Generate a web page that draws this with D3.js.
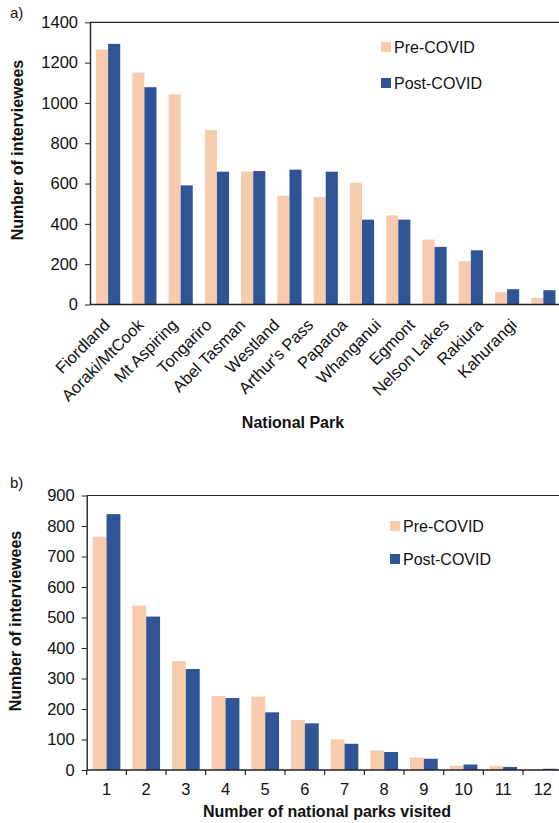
<!DOCTYPE html>
<html>
<head>
<meta charset="utf-8">
<script src="https://cdn.jsdelivr.net/npm/d3@7"></script>
<style>
  html, body { margin: 0; padding: 0; background: #fff; }
  svg { display: block; font-family: "Liberation Sans", Arial, sans-serif; }
</style>
</head>
<body>
<svg id="chart" width="559" height="823"></svg>
<script>
// Panel a: interviewees per national park
const parks = ["Fiordland", "Aoraki/MtCook", "Mt Aspiring", "Tongariro", "Abel Tasman",
  "Westland", "Arthur's Pass", "Paparoa", "Whanganui", "Egmont", "Nelson Lakes", "Rakiura", "Kahurangi"];
const parkPre  = [1265, 1151, 1042, 865, 660, 540, 533, 604, 442, 322, 215, 61, 33];
const parkPost = [1293, 1078, 591, 659, 662, 669, 659, 421, 421, 286, 269, 76, 71];
const parkTicks = [0, 200, 400, 600, 800, 1000, 1200, 1400];

// Panel b: number of national parks visited per interviewee
const visits = ["1", "2", "3", "4", "5", "6", "7", "8", "9", "10", "11", "12"];
const visitPre  = [765, 539, 357, 243, 241, 164, 100, 64, 41, 14, 13, 3];
const visitPost = [839, 503, 331, 236, 189, 153, 86, 59, 37, 18, 10, 4];
const visitTicks = [0, 100, 200, 300, 400, 500, 600, 700, 800, 900];

const seriesNames = ["Pre-COVID", "Post-COVID"];
const colors = { "Pre-COVID": "#F8CBAD", "Post-COVID": "#2F5597" };

const svg = d3.select("#chart");

function panel(opts) {
  const g = svg.append("g");
  const x0 = d3.scaleBand().domain(opts.cats).range([opts.left, opts.right]).padding(0);
  const x1 = d3.scaleBand().domain(seriesNames).range([0, x0.bandwidth()])
    .paddingInner(0).paddingOuter(opts.outer);
  const y = d3.scaleLinear().domain([0, opts.max]).range([opts.bottom, opts.top]);

  // bars
  const rows = opts.cats.map((c, i) => ({ c, v: { "Pre-COVID": opts.pre[i], "Post-COVID": opts.post[i] } }));
  const grp = g.selectAll("g.cat").data(rows).join("g")
    .attr("transform", d => `translate(${x0(d.c)},0)`);
  grp.selectAll("rect").data(d => seriesNames.map(s => ({ s, v: d.v[s] }))).join("rect")
    .attr("x", d => x1(d.s))
    .attr("width", x1.bandwidth())
    .attr("y", d => y(d.v))
    .attr("height", d => y(0) - y(d.v))
    .attr("fill", d => colors[d.s]);

  // top frame line
  g.append("line")
    .attr("x1", opts.left).attr("x2", 559)
    .attr("y1", opts.top).attr("y2", opts.top)
    .attr("stroke", "#222").attr("stroke-width", 1.2);

  // y axis
  const ya = g.append("g").attr("transform", `translate(${opts.left},0)`)
    .call(d3.axisLeft(y).tickValues(opts.ticks).tickFormat(d3.format("d"))
      .tickSize(5).tickSizeOuter(0).tickPadding(7));
  ya.select(".domain").attr("stroke", "#222").attr("stroke-width", 1.4);
  ya.selectAll(".tick line").attr("stroke", "#222");
  ya.selectAll(".tick text").attr("font-size", 16.5).attr("fill", "#111")
    .attr("font-family", "Liberation Sans, Arial, sans-serif");

  // x axis line
  const xa = g.append("g").attr("transform", `translate(0,${opts.bottom})`)
    .call(d3.axisBottom(x0).tickSize(0).tickSizeOuter(0).tickFormat(""));
  xa.select(".domain").attr("stroke", "#222").attr("stroke-width", 1.6)
    .attr("d", `M${opts.left},0H559`);
  xa.selectAll(".tick").remove();

  // legend
  seriesNames.forEach((s, i) => {
    const ly = opts.legY + i * opts.legGap;
    g.append("rect").attr("x", opts.legX).attr("y", ly - 10).attr("width", 10).attr("height", 10)
      .attr("fill", colors[s]);
    g.append("text").attr("x", opts.legX + 13).attr("y", ly + 1)
      .attr("font-size", 16).attr("fill", "#111").text(s);
  });

  // y title
  g.append("text")
    .attr("transform", `translate(${opts.yTitleX},${opts.yTitleY}) rotate(-90)`)
    .attr("text-anchor", "middle").attr("font-size", 16).attr("font-weight", "bold")
    .attr("fill", "#111").text("Number of interviewees");

  // panel letter
  g.append("text").attr("x", opts.letterX).attr("y", opts.letterY)
    .attr("font-size", 15).attr("fill", "#111").text(opts.letter);

  return { g, x0, y };
}

// ---- panel a
const a = panel({
  cats: parks, pre: parkPre, post: parkPost, max: 1400, ticks: parkTicks,
  left: 90, right: 561.5, top: 22.3, bottom: 304.5, outer: 0.5,
  legX: 381, legY: 52, legGap: 36,
  yTitleX: 23, yTitleY: 150, letter: "a)", letterX: 10, letterY: 18
});
// slanted park names sit on their own, slightly tighter spacing
const labelX = d3.scalePoint().domain(parks).range([111, 111 + 12 * 33.9]);
a.g.selectAll("text.xcat").data(parks).join("text")
  .attr("class", "xcat")
  .attr("transform", d => `translate(${labelX(d)},${326}) rotate(-45)`)
  .attr("text-anchor", "end").attr("font-size", 16.5).attr("fill", "#111")
  .text(d => d);
a.g.append("text").attr("x", 293).attr("y", 428).attr("text-anchor", "middle")
  .attr("font-size", 16).attr("font-weight", "bold").attr("fill", "#111").text("National Park");

// ---- panel b
const b = panel({
  cats: visits, pre: visitPre, post: visitPost, max: 900, ticks: visitTicks,
  left: 86.7, right: 562.7, top: 495.5, bottom: 770, outer: 0.43,
  legX: 390, legY: 531, legGap: 33,
  yTitleX: 21, yTitleY: 621, letter: "b)", letterX: 10, letterY: 488
});
// category boundary ticks on the x axis
const bounds = visits.map(v => b.x0(v)).concat([b.x0(visits[visits.length - 1]) + b.x0.bandwidth()])
  .filter(v => v <= 559);
b.g.selectAll("line.xtick").data(bounds).join("line").attr("class", "xtick")
  .attr("x1", d => d).attr("x2", d => d).attr("y1", 770).attr("y2", 775)
  .attr("stroke", "#222").attr("stroke-width", 1.2);
b.g.selectAll("text.xcat").data(visits).join("text").attr("class", "xcat")
  .attr("x", d => b.x0(d) + b.x0.bandwidth() / 2).attr("y", 795)
  .attr("text-anchor", "middle").attr("font-size", 16.5).attr("fill", "#111").text(d => d);
b.g.append("text").attr("x", 327).attr("y", 817).attr("text-anchor", "middle")
  .attr("font-size", 16).attr("font-weight", "bold").attr("fill", "#111")
  .text("Number of national parks visited");
</script>
</body>
</html>
